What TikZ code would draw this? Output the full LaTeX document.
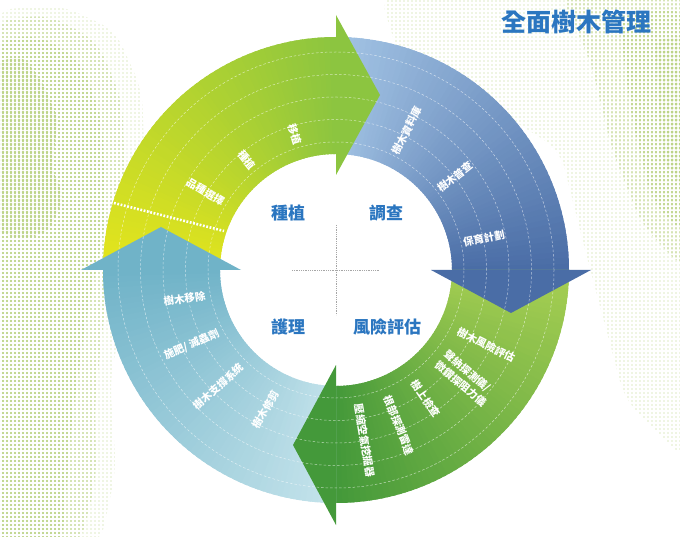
\documentclass[tikz,border=0pt]{standalone}
\usepackage{fontspec}
\usetikzlibrary{patterns}
\newfontfamily\cjk{Noto Sans CJK TC}
\definecolor{gA}{HTML}{E4E51C}
\definecolor{gB}{HTML}{8CC540}
\definecolor{bA}{HTML}{A2C3E4}
\definecolor{bB}{HTML}{4A6DA6}
\definecolor{dA}{HTML}{A6CE52}
\definecolor{dB}{HTML}{44993A}
\definecolor{lA}{HTML}{C4E3EB}
\definecolor{lB}{HTML}{70B3C8}
\definecolor{ttl}{HTML}{2B76C0}
\definecolor{dotg}{HTML}{BDD488}
\pgfdeclarepatternformonly{htA}{\pgfqpoint{-2pt}{-2pt}}{\pgfqpoint{2pt}{2pt}}{\pgfqpoint{4pt}{4pt}}{\pgfpathcircle{\pgfqpoint{0.5pt}{0.5pt}}{0.7pt}\pgfusepath{fill}}
\pgfdeclarepatternformonly{htB}{\pgfqpoint{-2pt}{-2pt}}{\pgfqpoint{2pt}{2pt}}{\pgfqpoint{4pt}{4pt}}{\pgfpathcircle{\pgfqpoint{0.5pt}{0.5pt}}{1.05pt}\pgfusepath{fill}}
\pgfdeclarepatternformonly{htC}{\pgfqpoint{-2pt}{-2pt}}{\pgfqpoint{2pt}{2pt}}{\pgfqpoint{4pt}{4pt}}{\pgfpathcircle{\pgfqpoint{0.5pt}{0.5pt}}{1.4pt}\pgfusepath{fill}}
\pgfdeclarepatternformonly{htD}{\pgfqpoint{-2pt}{-2pt}}{\pgfqpoint{2pt}{2pt}}{\pgfqpoint{4pt}{4pt}}{\pgfpathcircle{\pgfqpoint{0.5pt}{0.5pt}}{1.8pt}\pgfusepath{fill}}
\newcommand\bandfill[4]{%
  \foreach \i in {0,...,59}{%
    \pgfmathsetmacro\sa{#1+(#2-#1)*\i/60}%
    \pgfmathsetmacro\sb{#1+(#2-#1)*(\i+(\i<59?1.6:1))/60}%
    \pgfmathtruncatemacro\pc{100*\i/59}%
    \fill[#4!\pc!#3] (\sa:116) arc[start angle=\sa,end angle=\sb,radius=116]
      -- (\sb:233) arc[start angle=\sb,end angle=\sa,radius=233] -- cycle;
  }}
\tikzset{
  lbl/.style={text=white,inner sep=0pt,font=\cjk\bfseries\fontsize{10.5}{14}\selectfont},
  inlbl/.style={lbl,anchor=east},
  outlbl/.style={lbl,anchor=west},
  cen/.style={text=ttl,inner sep=0pt,font=\cjk\bfseries\fontsize{17}{19}\selectfont},
  ring dash/.style={white,opacity=0.6,line width=0.5pt,dash pattern=on 2.5pt off 2pt},
  htone/.style={pattern=#1,pattern color=dotg,rounded corners=18pt},
}
\begin{document}
\begin{tikzpicture}[x=1pt,y=1pt]
\useasboundingbox (0,0) rectangle (680,536);
\fill[white] (0,0) rectangle (680,536);
% halftone background (coordinates as screen pixels, y downwards)
\begin{scope}[yshift=536pt,yscale=-1]
  \path[htone=htA] (-5,10) -- (60,5) -- (115,30) -- (142,90) -- (146,200) -- (126,300) -- (110,380) -- (116,470) -- (100,545) -- (-5,545) -- cycle;
  \path[htone=htB] (-5,20) -- (50,15) -- (98,42) -- (122,100) -- (126,200) -- (106,300) -- (95,400) -- (96,480) -- (80,545) -- (-5,545) -- cycle;
  \path[htone=htC] (-5,40) -- (40,35) -- (82,62) -- (102,120) -- (106,220) -- (86,320) -- (72,420) -- (62,545) -- (-5,545) -- cycle;
  \path[htone=htD,rounded corners=8pt] (-5,62) -- (22,56) -- (40,78) -- (58,118) -- (52,168) -- (64,198) -- (48,232) -- (20,240) -- (-5,230) -- cycle;
  \path[htone=htA] (380,-5) -- (685,-5) -- (685,460) -- (625,400) -- (585,250) -- (560,150) -- (480,100) -- (400,60) -- cycle;
  \path[htone=htB] (560,-5) -- (685,-5) -- (685,270) -- (642,225) -- (612,150) -- (590,60) -- cycle;
  \path[htone=htC] (618,15) -- (685,8) -- (685,235) -- (652,202) -- (632,120) -- cycle;
  \path[htone=htD,rounded corners=8pt] (655,40) -- (685,35) -- (685,190) -- (662,160) -- cycle;
\end{scope}
\begin{scope}[shift={(336,266)}]
\coordinate (O) at (0,0);
% ring bodies
\bandfill{180}{90}{gA}{gB}
\bandfill{90}{0}{bA}{bB}
\bandfill{0}{-90}{dA}{dB}
\bandfill{270}{180}{lA}{lB}
% heads
\fill[gB] (0,255) -- (44,175) -- (0,95) -- cycle;
\fill[bB] (255,0) -- (175,-43) -- (95,0) -- cycle;
\fill[dB] (0,-255) -- (-43,-175) -- (0,-95) -- cycle;
\fill[lB] (-255,0) -- (-175,43) -- (-95,0) -- cycle;
% dashed rings
\foreach \r in {128,150.5,173,195.5,218}{\draw[ring dash] (O) circle (\r);}
% dotted divider in green band
\coordinate (dv1) at (-222,67);
\coordinate (dv2) at (-112,39);
\draw[white,line width=2.6pt,dash pattern=on 1.8pt off 1.6pt] (dv1) -- (dv2);
% centre cross
\coordinate (cxt) at (0,45);
\coordinate (cxb) at (0,-45);
\coordinate (cxl) at (-44,0);
\coordinate (cxr) at (44,0);
\draw[gray!70,line width=0.6pt,dash pattern=on 0.6pt off 1.2pt] (cxt) -- (cxb);
\draw[gray!70,line width=0.6pt,dash pattern=on 0.6pt off 1.2pt] (cxl) -- (cxr);
% centre labels
\node[cen] (c1) at (-48,57) {種植};
\node[cen] (c2) at (50,57) {調查};
\node[cen] (c3) at (-48,-57) {護理};
\node[cen] (c4) at (51,-57) {風險評估};
% green band labels
\node[inlbl,rotate=-31] (g1) at (149:131) {品種選擇};
\node[inlbl,rotate=-51] (g2) at (129:131) {種植};
\node[inlbl,rotate=-73] (g3) at (107:131) {移植};
% blue band labels
\node[outlbl,rotate=63] (b1) at (63:130) {樹木資料庫};
\node[outlbl,rotate=38] (b2) at (38:130) {樹木普查};
\node[outlbl,rotate=12] (b3) at (12:130) {保育計劃};
% dark green band labels
\node[outlbl,rotate=-26.5] (d1) at (-26.5:136) {樹木風險評估};
\node[outlbl,rotate=-40,align=left] (d2) at (-40:137) {聲納探測儀/\\微鑽探阻力儀};
\node[outlbl,rotate=-55] (d3) at (-55:136) {樹上檢查};
\node[outlbl,rotate=-68] (d4) at (-68:136) {根部探測雷達};
\node[outlbl,rotate=-80.5] (d5) at (-80.5:136) {壓縮空氣挖掘器};
% light blue band labels
\node[inlbl,rotate=9] (l1) at (191:133) {樹木移除};
\node[inlbl,rotate=24] (l2) at (208:133) {施肥/ 滅蟲劑};
\node[inlbl,rotate=42] (l3) at (225.5:134) {樹木支撐系統};
\node[inlbl,rotate=60] (l4) at (243.7:135) {樹木修剪};
\end{scope}
% title
\node[text=ttl,inner sep=0pt,font=\cjk\bfseries\fontsize{25}{28}\selectfont] (title) at (576,514) {全面樹木管理};
\end{tikzpicture}
\end{document}
